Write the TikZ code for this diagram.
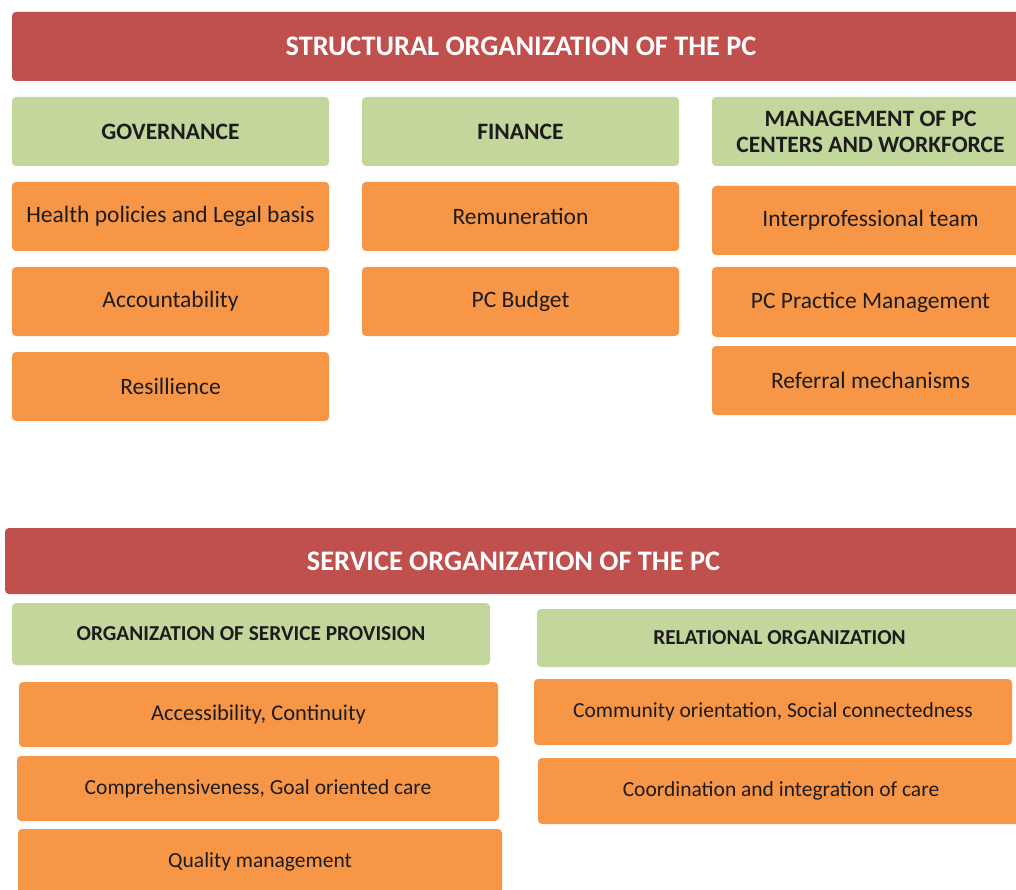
\documentclass[tikz,border=0pt]{standalone}
\usepackage{fontspec}
\setmainfont{Carlito}

\definecolor{bannerred}{HTML}{C0504D}
\definecolor{headgreen}{HTML}{C3D69B}
\definecolor{itemorange}{HTML}{F79646}
\definecolor{inkdark}{HTML}{1C1C1C}

\begin{document}
\begin{tikzpicture}[x=1pt, y=-1pt,
  box/.style={rectangle, rounded corners=4pt, inner sep=0pt, align=center},
  banner/.style={box, fill=bannerred, text=white, font=\bfseries\fontsize{28.3}{30}\selectfont},
  head/.style={box, fill=headgreen, text=inkdark, font=\bfseries\fontsize{23.5}{26}\selectfont, minimum width=317pt, minimum height=69pt},
  item/.style={box, fill=itemorange, text=inkdark, font=\fontsize{23.5}{26}\selectfont, minimum width=317pt, minimum height=69pt},
  lowhead/.style={box, fill=headgreen, text=inkdark, font=\bfseries\fontsize{21.3}{24}\selectfont},
  lowitem/.style={box, fill=itemorange, text=inkdark, font=\fontsize{21.5}{24}\selectfont}]
\useasboundingbox (0,0) rectangle (1016,890);
\clip (0,0) rectangle (1016,890);

\node[banner, minimum width=1018pt, minimum height=69pt] (structural) at (521, 46.5) {STRUCTURAL ORGANIZATION OF THE PC};

\node[head] (governance) at (170.5, 131.5) {GOVERNANCE};
\node[head] (finance) at (520.5, 131.5) {FINANCE};
\node[head] (management) at (870.5, 131.5) {MANAGEMENT OF PC\\CENTERS AND WORKFORCE};

\node[item] (policies) at (170.5, 216.5) {Health policies and Legal basis};
\node[item] (accountability) at (170.5, 301.5) {Accountability};
\node[item] (resilience) at (170.5, 386.5) {Resillience};

\node[item] (remuneration) at (520.5, 216.5) {Remuneration};
\node[item] (budget) at (520.5, 301.5) {PC Budget};

\node[item] (team) at (870.5, 220.5) {Interprofessional team};
\node[item, minimum height=70pt] (practice) at (870.5, 302) {PC Practice Management};
\node[item] (referral) at (870.5, 380.5) {Referral mechanisms};


\node[banner, minimum width=1017pt, minimum height=66pt] (service) at (513.5, 561) {SERVICE ORGANIZATION OF THE PC};

\node[lowhead, minimum width=478pt, minimum height=62pt] (provision) at (251, 634) {ORGANIZATION OF SERVICE PROVISION};
\node[lowhead, minimum width=485pt, minimum height=58pt] (relational) at (779.5, 638) {RELATIONAL ORGANIZATION};

\node[lowitem, minimum width=479pt, minimum height=65pt, font=\fontsize{22.5}{25}\selectfont] (access) at (258.5, 714.5) {Accessibility, Continuity};
\node[lowitem, minimum width=482pt, minimum height=65pt] (compre) at (258, 788.5) {Comprehensiveness, Goal oriented care};
\node[lowitem, minimum width=484pt, minimum height=65pt] (quality) at (260, 861.5) {Quality management};

\node[lowitem, minimum width=478pt, minimum height=66pt] (community) at (773, 712) {Community orientation, Social connectedness};
\node[lowitem, minimum width=486pt, minimum height=66pt] (coordination) at (781, 791) {Coordination and integration of care};
\end{tikzpicture}
\end{document}
